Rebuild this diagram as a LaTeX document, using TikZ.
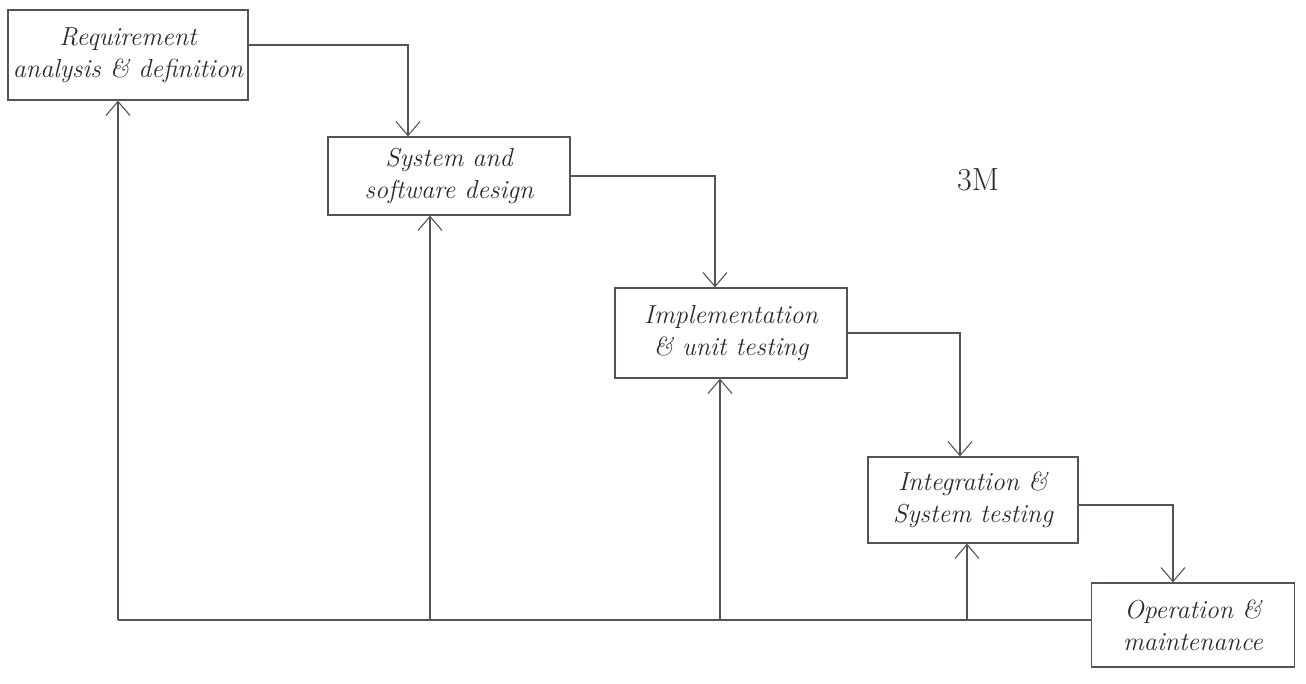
\documentclass[tikz,border=0pt]{standalone}
\usetikzlibrary{arrows.meta}
\definecolor{ink}{HTML}{55525A}
\definecolor{txt}{HTML}{2E2836}
\tikzset{
  phase/.style={draw=ink, line width=1.3pt, rectangle, align=center, inner sep=2pt,
    font=\itshape\fontsize{26}{32}\selectfont, text=txt},
  arr/.style={draw=ink, line width=1.1pt, -{Straight Barb[length=14pt,width=24pt,line width=1.1pt]}},
  ln/.style={draw=ink, line width=1.1pt}
}
\begin{document}
\begin{tikzpicture}[x=1pt,y=-1pt]
\useasboundingbox (0,0) rectangle (1306,683);
\node[phase, minimum width=240pt, minimum height=90pt] (b1) at (128,55) {Requirement\\analysis \& definition};
\node[phase, minimum width=242pt, minimum height=78pt] (b2) at (449,176) {System and\\software design};
\node[phase, minimum width=232pt, minimum height=90pt] (b3) at (731,333) {Implementation\\\& unit testing};
\node[phase, minimum width=210pt, minimum height=86pt] (b4) at (973,500) {Integration \&\\System testing};
\node[phase, minimum width=203pt, minimum height=84pt] (b5) at (1193,625) {Operation \&\\maintenance};
\node[font=\fontsize{32}{36}\selectfont, text=txt] (m) at (978,180) {3M};
% forward flow
\draw[arr] ([yshift=10pt]b1.east) -| ([xshift=-41pt]b2.north);
\draw[arr] (b2.east) -| ([xshift=-16pt]b3.north);
\draw[arr] (b3.east) -| ([xshift=-13pt]b4.north);
\draw[arr] ([yshift=-5pt]b4.east) -| ([xshift=-20pt]b5.north);
% feedback
\coordinate (j1) at (118,620);
\coordinate (j2) at (430,620);
\coordinate (j3) at (720,620);
\coordinate (j4) at (967,620);
\draw[ln] ([yshift=5pt]b5.west) -- (j1);
\draw[arr] (j1) -- ([xshift=-10pt]b1.south);
\draw[arr] (j2) -- ([xshift=-19pt]b2.south);
\draw[arr] (j3) -- ([xshift=-11pt]b3.south);
\draw[arr] (j4) -- ([xshift=-6pt]b4.south);
\end{tikzpicture}
\end{document}
